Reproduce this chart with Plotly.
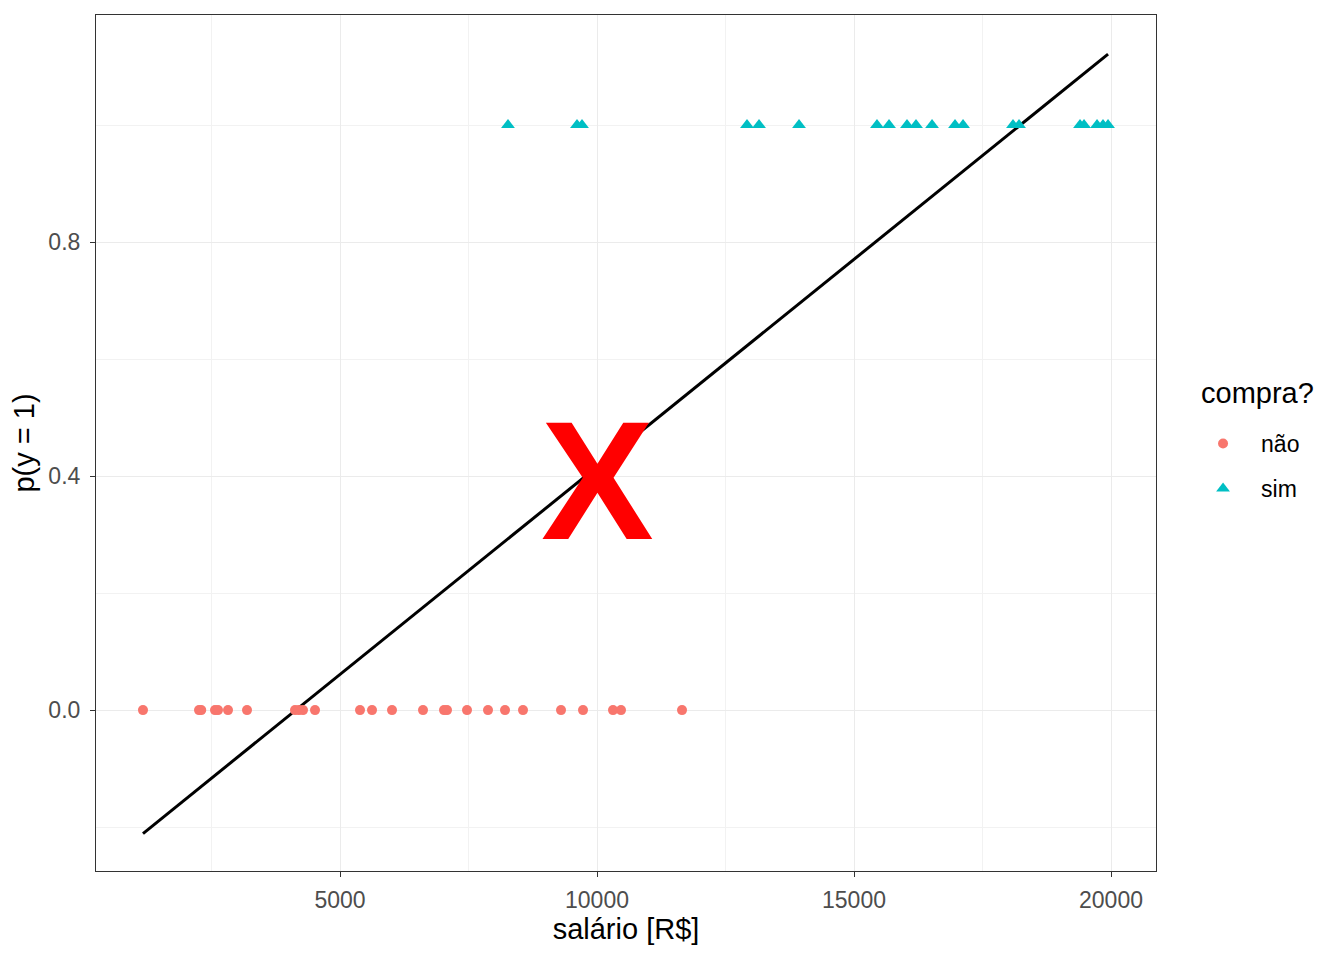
import plotly.graph_objects as go

# ---- data ----
salario_nao = [1167, 2257, 2300, 2568, 2626, 2821, 3191, 4125, 4200, 4280, 4514,
               5389, 5623, 6012, 6615, 7023, 7082, 7471, 7879, 8210, 8560,
               9300, 9728, 10311, 10467, 11654]
y_nao = [0] * len(salario_nao)

salario_sim = [8268, 9611, 9708, 12918, 13152, 13930, 15447, 15681, 16031, 16206,
               16518, 16965, 17121, 18093, 18210, 19397, 19475, 19728, 19844, 19942]
y_sim = [1] * len(salario_sim)

# linear fit (geom_smooth lm) endpoints
fit_x = [1167, 19942]
fit_y = [-0.211, 1.121]

# marker "X" position
x_mark = [10000]
y_mark = [0.393]

x_ticks = [5000, 10000, 15000, 20000]
y_ticks = [0, 0.4, 0.8]

FONT = "Liberation Sans, Arial, sans-serif"

fig = go.Figure()

fig.add_trace(go.Scatter(
    x=fit_x, y=fit_y, mode="lines",
    line=dict(color="black", width=3),
    showlegend=False, hoverinfo="skip"))

fig.add_trace(go.Scatter(
    x=salario_nao, y=y_nao, mode="markers", name="não", legendgroup="nao",
    marker=dict(color="#F8766D", size=10, symbol="circle")))

fig.add_trace(go.Scatter(
    x=salario_sim, y=y_sim, mode="markers", name="sim", legendgroup="sim",
    marker=dict(color="#00BFC4", size=12, symbol="triangle-up")))

fig.add_annotation(
    x=x_mark[0], y=y_mark[0], text="<b>X</b>", showarrow=False,
    font=dict(family=FONT, size=169, color="red"),
    xanchor="center", yanchor="middle")

# legend title as text
fig.add_annotation(
    xref="paper", yref="paper", x=1.0405, y=0.5584, text="compra?",
    showarrow=False, xanchor="left", yanchor="middle",
    font=dict(family=FONT, size=29, color="black"))

fig.update_layout(
    width=1336, height=952,
    margin=dict(l=88, r=188, t=7, b=89),
    paper_bgcolor="white", plot_bgcolor="white",
    font=dict(family=FONT, color="black"),
    legend=dict(
        font=dict(size=23, color="black"),
        x=1.0274, xanchor="left", y=0.5245, yanchor="top",
        itemwidth=66,
        tracegroupgap=12, bgcolor="rgba(0,0,0,0)"),
)

fig.update_xaxes(
    range=[253, 20875], tickvals=x_ticks, tickformat="d",
    showgrid=True, gridcolor="#EBEBEB", gridwidth=1.2,
    minor=dict(dtick=2500, tick0=0, showgrid=True, gridcolor="#F2F2F2", gridwidth=0.6),
    ticks="outside", ticklen=5, tickcolor="#333333", tickwidth=1.1,
    ticklabelstandoff=3,
    tickfont=dict(size=23, color="#4D4D4D"),
    showline=True, linecolor="#333333", linewidth=1.1, mirror=True,
    zeroline=False,
    title=dict(text="salário [R$]", font=dict(size=29, color="black"), standoff=4))

fig.update_yaxes(
    range=[-0.275, 1.188], tickvals=y_ticks, tickformat=".1f",
    showgrid=True, gridcolor="#EBEBEB", gridwidth=1.2,
    minor=dict(dtick=0.2, tick0=0.2, showgrid=True, gridcolor="#F2F2F2", gridwidth=0.6),
    ticks="outside", ticklen=5, tickcolor="#333333", tickwidth=1.1,
    ticklabelstandoff=5,
    tickfont=dict(size=23, color="#4D4D4D"),
    showline=True, linecolor="#333333", linewidth=1.1, mirror=True,
    zeroline=False,
    title=dict(text="p(y = 1)", font=dict(size=29, color="black"), standoff=6))

fig.write_html("out.html")
